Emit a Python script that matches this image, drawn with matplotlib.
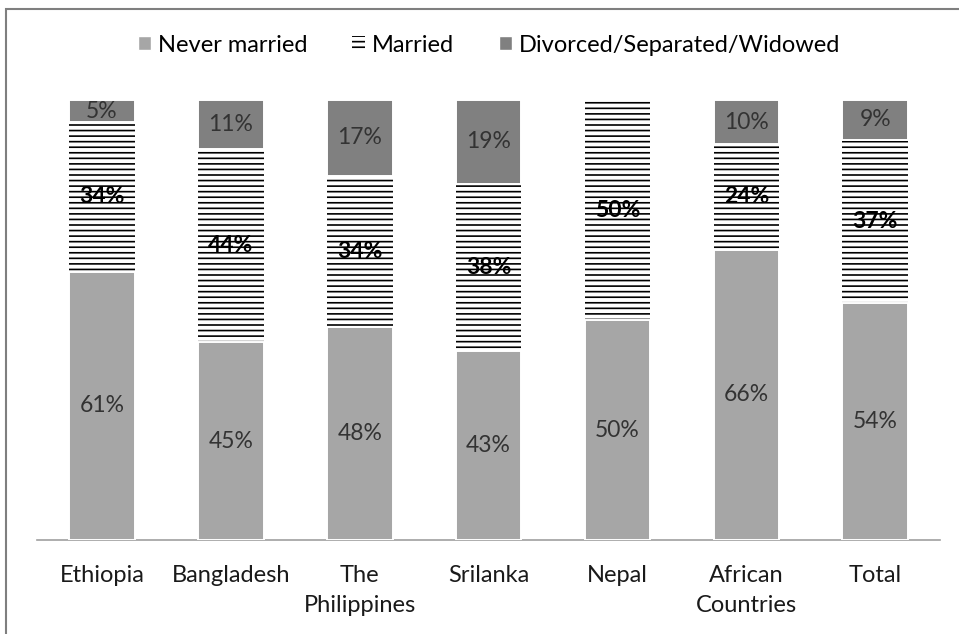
import numpy as np
import matplotlib
matplotlib.use('Agg')
import matplotlib.pyplot as plt
from matplotlib.patches import Patch, Rectangle

plt.rcParams.update({'font.family': ['Lato', 'DejaVu Sans'], 'font.size': 17,
                     'hatch.linewidth': 1.2})

countries = ['Ethiopia', 'Bangladesh', 'The\nPhilippines', 'Srilanka', 'Nepal',
             'African\nCountries', 'Total']
never_married = [61, 45, 48, 43, 50, 66, 54]
married = [34, 44, 34, 38, 50, 24, 37]
divorced = [5, 11, 17, 19, 0, 10, 9]
series_names = ['Never married', 'Married', 'Divorced/Separated/Widowed']

vals = np.array([never_married, married, divorced], dtype=float)
shares = vals / vals.sum(axis=0) * 100  # 100% stacked like the original

fig = plt.figure(figsize=(9.59, 6.34), dpi=100)
ax = fig.add_axes([0.039, 0.148, 0.941, 0.694])

x = np.arange(len(countries))
styles = [dict(color='#a6a6a6', edgecolor='white', linewidth=1.4),
          dict(facecolor='white', edgecolor='black', hatch='---', linewidth=0),
          dict(color='#808080', edgecolor='white', linewidth=1.4)]
bottom = np.zeros(len(countries))
for i, st in enumerate(styles):
    ax.bar(x, shares[i], 0.51, bottom=bottom, zorder=2 if i == 1 else 3, **st)
    for xi, v, b, raw in zip(x, shares[i], bottom, vals[i]):
        if raw <= 0:
            continue
        ax.text(xi, b + v / 2, f'{raw:.0f}%', ha='center', va='center', zorder=5,
                fontsize=16.5, color='black' if i == 1 else '#333333',
                fontweight='bold' if i == 1 else 'normal')
    bottom += shares[i]

ax.set_xlim(-0.5, len(countries) - 0.5)
ax.set_ylim(0, 100)
ax.set_xticks(x)
ax.set_xticklabels(countries, fontsize=17, color='#1a1a1a', linespacing=1.5)
ax.tick_params(axis='x', length=0, pad=18)
ax.set_yticks([])
for sp in ['top', 'right', 'left']:
    ax.spines[sp].set_visible(False)
ax.spines['bottom'].set_color('#a0a0a0')
ax.spines['bottom'].set_linewidth(1.2)

handles = [Patch(facecolor='#a6a6a6', edgecolor='white'),
           Patch(facecolor='white', edgecolor='black', hatch='---', linewidth=0),
           Patch(facecolor='#808080', edgecolor='white')]
fig.legend(handles, series_names, loc='center', bbox_to_anchor=(0.51, 0.929), ncol=3,
           frameon=False, fontsize=17, handlelength=0.55, handleheight=0.55,
           handletextpad=0.3, columnspacing=1.9)

fig.add_artist(Rectangle((5.5 / 959, -0.05), 1.0, 1.0 - 8.5 / 634 + 0.05,
                         transform=fig.transFigure, fill=False, edgecolor='#7f7f7f',
                         linewidth=1.5, clip_on=False))

fig.savefig('out.png', dpi=100)
